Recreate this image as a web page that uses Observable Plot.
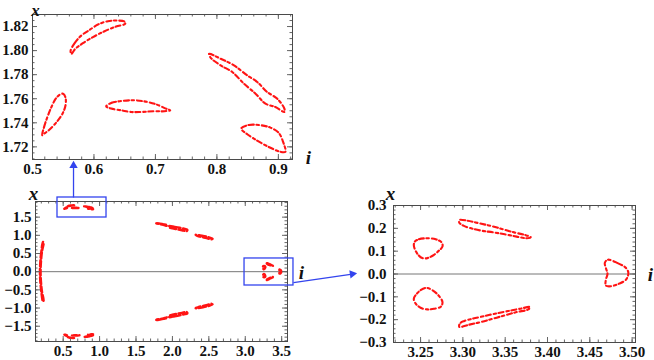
<!DOCTYPE html>
<html><head><meta charset="utf-8">
<script src="https://cdn.jsdelivr.net/npm/d3@7"></script>
<script src="https://cdn.jsdelivr.net/npm/@observablehq/plot@0.6"></script>
<style>
body{margin:0;background:#fff;}
#wrap{position:relative;width:654px;height:360px;overflow:hidden;background:#fff;}
.panel{position:absolute;}
</style></head><body><div id="wrap"></div>
<script>
// ---------- data: loops, [i, x] pairs ----------
// upper cluster (zoomed in top panel)
const loopTopDiag = [[0.562,1.800],[0.5686,1.8062],[0.5794,1.8125],[0.5929,1.8172],[0.6064,1.8217],[0.6226,1.8244],[0.6388,1.825],[0.6506,1.8239],[0.6506,1.8222],[0.636,1.820],[0.6172,1.8161],[0.5983,1.8112],[0.582,1.8062],[0.5697,1.8015],[0.5632,1.7973]];
const loopLeft = [[0.5157,1.7297],[0.5189,1.7366],[0.5243,1.7449],[0.5308,1.7531],[0.5378,1.7601],[0.5443,1.7634],[0.5497,1.7642],[0.5535,1.7614],[0.554,1.7554],[0.5502,1.749],[0.5448,1.7443],[0.5362,1.7388],[0.5265,1.7338],[0.5189,1.731]];
const loopCenter = [[0.6199,1.7537],[0.628,1.7565],[0.6442,1.7581],[0.6658,1.7587],[0.682,1.7578],[0.7009,1.7554],[0.7171,1.7518],[0.7241,1.7504],[0.7144,1.7496],[0.6982,1.7496],[0.6766,1.749],[0.6604,1.749],[0.6442,1.7504],[0.628,1.7518]];
const loopRightDiag = [[0.7873,1.7973],[0.8062,1.7932],[0.8278,1.7877],[0.8494,1.7794],[0.8656,1.7739],[0.8817,1.7656],[0.8979,1.7601],[0.9098,1.7518],[0.9098,1.749],[0.8952,1.7531],[0.879,1.7559],[0.8628,1.7642],[0.844,1.7725],[0.825,1.7822],[0.8062,1.7877],[0.79,1.794]];
const loopBottomRight = [[0.8396,1.7352],[0.852,1.7382],[0.8709,1.738],[0.8871,1.736],[0.9006,1.7316],[0.9077,1.7241],[0.9114,1.7159],[0.9033,1.7159],[0.8898,1.7186],[0.8736,1.7228],[0.8601,1.7269],[0.8494,1.7305]];
// lower cluster (x < 0)
const loopTopDiagN = [[0.563,-1.798],[0.58,-1.811],[0.605,-1.821],[0.638,-1.825],[0.651,-1.823],[0.618,-1.816],[0.583,-1.806],[0.565,-1.801]];
const loopLeftN = [[0.516,-1.73],[0.525,-1.745],[0.538,-1.76],[0.55,-1.764],[0.554,-1.755],[0.545,-1.744],[0.527,-1.734]];
const loopCenterN = [[0.62,-1.754],[0.645,-1.758],[0.68,-1.758],[0.717,-1.752],[0.724,-1.75],[0.698,-1.7495],[0.66,-1.749],[0.63,-1.752]];
const loopRightDiagN = [[0.787,-1.797],[0.828,-1.788],[0.866,-1.774],[0.898,-1.76],[0.91,-1.75],[0.895,-1.753],[0.863,-1.764],[0.825,-1.782],[0.79,-1.794]];
const loopBottomRightN = [[0.84,-1.735],[0.871,-1.738],[0.9,-1.732],[0.911,-1.716],[0.89,-1.719],[0.86,-1.727]];
// middle loops
const mid1 = [[1.778,1.335],[1.83,1.322],[1.88,1.303],[1.93,1.276],[1.926,1.263],[1.876,1.29],[1.826,1.311],[1.781,1.324]];
const mid2 = [[1.955,1.255],[2.03,1.232],[2.1,1.207],[2.17,1.175],[2.205,1.155],[2.195,1.115],[2.13,1.14],[2.05,1.17],[1.98,1.2],[1.955,1.22]];
const mid3 = [[2.318,1.012],[2.38,1.0],[2.44,0.976],[2.5,0.946],[2.552,0.906],[2.54,0.89],[2.48,0.918],[2.42,0.948],[2.36,0.975],[2.33,0.996]];
const mid1N = [[1.778,-1.33],[1.83,-1.315],[1.88,-1.296],[1.93,-1.27],[1.926,-1.256],[1.876,-1.283],[1.826,-1.304],[1.781,-1.318]];
const mid2N = [[1.955,-1.25],[2.03,-1.226],[2.1,-1.2],[2.17,-1.168],[2.205,-1.148],[2.195,-1.108],[2.13,-1.133],[2.05,-1.163],[1.98,-1.193],[1.955,-1.213]];
const mid3N = [[2.318,-1.008],[2.38,-0.995],[2.44,-0.97],[2.5,-0.94],[2.552,-0.9],[2.54,-0.884],[2.48,-0.912],[2.42,-0.942],[2.36,-0.97],[2.33,-0.99]];
// left arc
const leftArc = [[0.222,0.82],[0.2,0.55],[0.186,0.27],[0.181,0],[0.186,-0.27],[0.2,-0.55],[0.222,-0.82],[0.231,-0.8],[0.209,-0.55],[0.195,-0.27],[0.19,0],[0.195,0.27],[0.209,0.55],[0.231,0.8]];
// right cluster (zoomed in bottom-right panel)
const circleUp = [[3.2432,0.142],[3.248,0.152],[3.258,0.1565],[3.2679,0.152],[3.2751,0.1377],[3.2759,0.1203],[3.2719,0.1029],[3.2659,0.0841],[3.258,0.0696],[3.252,0.0696],[3.2472,0.0841],[3.2432,0.1087],[3.242,0.1275]];
const circleDown = [[3.2448,-0.0899],[3.25,-0.071],[3.2568,-0.0609],[3.2647,-0.0725],[3.2719,-0.0971],[3.2759,-0.1232],[3.2739,-0.1435],[3.2659,-0.1522],[3.258,-0.1551],[3.25,-0.1478],[3.244,-0.129],[3.242,-0.1087]];
const longUp = [[3.2958,0.2362],[3.3057,0.2333],[3.3197,0.2217],[3.3336,0.2101],[3.3475,0.1957],[3.3615,0.1812],[3.3734,0.171],[3.3802,0.1609],[3.3754,0.1565],[3.3635,0.1638],[3.3495,0.1739],[3.3356,0.1826],[3.3217,0.1899],[3.3097,0.2],[3.3006,0.2116],[3.2958,0.2246]];
const longDown = [[3.2958,-0.2319],[3.3077,-0.2217],[3.3217,-0.2101],[3.3356,-0.1957],[3.3495,-0.1812],[3.3635,-0.1667],[3.3774,-0.1551],[3.3794,-0.1449],[3.3674,-0.1522],[3.3535,-0.1623],[3.3396,-0.1725],[3.3256,-0.1841],[3.3117,-0.1957],[3.3017,-0.2058],[3.2966,-0.2159]];
const crescent = [[3.4709,0.0623],[3.4829,0.0478],[3.4928,0.0261],[3.4956,0.0043],[3.4928,-0.0246],[3.4848,-0.042],[3.4749,-0.0536],[3.469,-0.0507],[3.469,-0.0246],[3.4709,0],[3.469,0.0261],[3.4677,0.0478]];

// tick labels
const topXTicks = [0.5, 0.6, 0.7, 0.8, 0.9];
const topYTicks = [1.72, 1.74, 1.76, 1.78, 1.80, 1.82];
const blXTicks = [0.5, 1.0, 1.5, 2.0, 2.5, 3.0, 3.5];
const blYTicks = [-1.5, -1.0, -0.5, 0.0, 0.5, 1.0, 1.5];
const brXTicks = [3.25, 3.30, 3.35, 3.40, 3.45, 3.50];
const brYTicks = [-0.3, -0.2, -0.1, 0.0, 0.1, 0.2, 0.3];

// zoom boxes and arrows (annotation, in bottom-left data units)
const zoomBoxes = [{x1: 0.422, x2: 1.095, y1: 1.49, y2: 2.04}, {x1: 2.99, x2: 3.662, y1: -0.38, y2: 0.363}];
const arrowLines = [{x1: 0.642, y1: 2.04, x2: 0.642, y2: 2.92}, {x1: 3.662, y1: -0.30, x2: 4.47, y2: -0.065}];
const arrowHeads = [{x: 0.642, y: 2.92, rot: 0}, {x: 4.47, y: -0.065, rot: 82}];

// ---------- helpers ----------
const RED = "#ff1414", BLUE = "#3344ee", FRAME = "#4a4a4a", TICK = "#666";
const rows = (named) => named.flatMap(([name, pts]) => pts.map(([i, x]) => ({loop: name, i, x})));
const upperCluster = [["tdiag", loopTopDiag], ["left", loopLeft], ["center", loopCenter], ["rdiag", loopRightDiag], ["bright", loopBottomRight]];
const lowerCluster = [["tdiagN", loopTopDiagN], ["leftN", loopLeftN], ["centerN", loopCenterN], ["rdiagN", loopRightDiagN], ["brightN", loopBottomRightN]];
const midLoops = [["m1", mid1], ["m2", mid2], ["m3", mid3], ["m1N", mid1N], ["m2N", mid2N], ["m3N", mid3N], ["arc", leftArc]];
const rightCluster = [["cu", circleUp], ["cd", circleDown], ["lu", longUp], ["ld", longDown], ["cr", crescent]];

function frameTicks(values, dim, len, fw, fh, domain) {
  const v = values.filter(d => d >= domain[0] - 1e-9 && d <= domain[1] + 1e-9);
  if (dim === "x") return [
    Plot.tickX(v, {x: d => d, insetTop: fh - len, stroke: TICK}),
    Plot.tickX(v, {x: d => d, insetBottom: fh - len, stroke: TICK})];
  return [
    Plot.tickY(v, {y: d => d, insetRight: fw - len, stroke: TICK}),
    Plot.tickY(v, {y: d => d, insetLeft: fw - len, stroke: TICK})];
}
const baseStyle = {background: "transparent", fontFamily: "'Liberation Serif', 'DejaVu Serif', serif", fontSize: "15px", fontWeight: "bold", color: "#111", overflow: "visible"};
const axisLabel = (txt, anchor, dx, dy, size = 19) => Plot.text([txt], {frameAnchor: anchor, dx, dy, text: d => d, textAnchor: "middle", lineAnchor: "middle", fontStyle: "italic", fontWeight: "bold", fontSize: size, fontFamily: "'Liberation Serif', serif", fill: "#111"});

function place(svg, left, top) {
  const d = document.createElement("div");
  d.className = "panel";
  d.style.left = left + "px"; d.style.top = top + "px";
  d.appendChild(svg);
  document.getElementById("wrap").appendChild(d);
}
const dotted = "5,2.5,2.5,3";

// ---------- bottom-right panel ----------
{
  const W = 314, H = 180, mL = 53, mR = 19, mT = 25, mB = 18;
  const fw = W - mL - mR, fh = H - mT - mB;
  const xd = [3.218, 3.504], yd = [-0.3, 0.3];
  const svg = Plot.plot({
    width: W, height: H, marginLeft: mL, marginRight: mR, marginTop: mT, marginBottom: mB,
    x: {domain: xd, label: null}, y: {domain: yd, label: null},
    style: baseStyle,
    marks: [
      Plot.ruleY([0], {stroke: "#777"}),
      Plot.line(rows(rightCluster), {x: "i", y: "x", z: "loop", curve: "catmull-rom-closed", stroke: RED, strokeWidth: 2.1, strokeDasharray: dotted}),
      ...frameTicks(d3.range(3.22, 3.505, 0.01), "x", 2.5, fw, fh, xd),
      ...frameTicks(brXTicks, "x", 5, fw, fh, xd),
      ...frameTicks(d3.range(-0.3, 0.301, 0.02), "y", 2.5, fw, fh, yd),
      ...frameTicks(brYTicks, "y", 5, fw, fh, yd),
      Plot.frame({stroke: FRAME}),
      Plot.axisX(brXTicks, {tickSize: 0, tickPadding: 4, tickFormat: d3.format(".2f"), label: null}),
      Plot.axisY(brYTicks, {tickSize: 0, tickPadding: 7, tickFormat: d3.format(".1f"), label: null}),
      axisLabel("x", "top-left", -3, -12),
      axisLabel("i", "right", 15, 1)
    ]
  });
  place(svg, 340, 180);
}

// ---------- top panel ----------
{
  const W = 330, H = 180, mL = 32, mR = 38, mT = 14, mB = 21;
  const fw = W - mL - mR, fh = H - mT - mB;
  const xd = [0.5, 0.923], yd = [1.7095, 1.83];
  const svg = Plot.plot({
    width: W, height: H, marginLeft: mL, marginRight: mR, marginTop: mT, marginBottom: mB,
    x: {domain: xd, label: null}, y: {domain: yd, label: null},
    style: baseStyle,
    marks: [
      Plot.line(rows(upperCluster), {x: "i", y: "x", z: "loop", curve: "catmull-rom-closed", stroke: RED, strokeWidth: 2.1, strokeDasharray: dotted}),
      ...frameTicks(d3.range(0.5, 0.923, 0.02), "x", 2.5, fw, fh, xd),
      ...frameTicks(topXTicks, "x", 5, fw, fh, xd),
      ...frameTicks(d3.range(1.71, 1.8305, 0.005), "y", 2.5, fw, fh, yd),
      ...frameTicks(topYTicks, "y", 5, fw, fh, yd),
      Plot.frame({stroke: FRAME}),
      Plot.axisX(topXTicks, {tickSize: 0, tickPadding: 4, tickFormat: d3.format(".1f"), label: null}),
      Plot.axisY(topYTicks, {tickSize: 0, tickPadding: 4, tickFormat: d3.format(".2f"), label: null}),
      axisLabel("x", "top-left", 3, -4, 17),
      axisLabel("i", "bottom-right", 16, -2)
    ]
  });
  place(svg, 0, 0);
}

// ---------- bottom-left panel ----------
{
  const W = 362, H = 210, mL = 35, mR = 75, mT = 51, mB = 19;
  const fw = W - mL - mR, fh = H - mT - mB;
  const xd = [0.12, 3.58], yd = [-1.92, 1.93];
  const svg = Plot.plot({
    width: W, height: H, marginLeft: mL, marginRight: mR, marginTop: mT, marginBottom: mB,
    x: {domain: xd, label: null}, y: {domain: yd, label: null},
    style: baseStyle,
    marks: [
      Plot.ruleY([0], {stroke: "#777"}),
      Plot.line(rows([...upperCluster, ...lowerCluster, ...midLoops, ...rightCluster]), {x: "i", y: "x", z: "loop", curve: "catmull-rom-closed", stroke: RED, strokeWidth: 2.4, strokeDasharray: "6,2.5"}),
      ...frameTicks(d3.range(0.2, 3.58, 0.1), "x", 2.5, fw, fh, xd),
      ...frameTicks(blXTicks, "x", 5, fw, fh, xd),
      ...frameTicks(d3.range(-1.9, 1.93, 0.1), "y", 2.5, fw, fh, yd),
      ...frameTicks(blYTicks, "y", 5, fw, fh, yd),
      Plot.frame({stroke: FRAME}),
      Plot.axisX(blXTicks, {tickSize: 0, tickPadding: 4, tickFormat: d3.format(".1f"), label: null}),
      Plot.axisY(blYTicks, {tickSize: 0, tickPadding: 4, tickFormat: d3.format(".1f"), label: null}),
      axisLabel("x", "top-left", -2, -8),
      axisLabel("i", "right", 14, 1),
      Plot.rect(zoomBoxes, {x1: "x1", x2: "x2", y1: "y1", y2: "y2", fill: "none", stroke: BLUE, strokeWidth: 1.3}),
      Plot.link(arrowLines, {x1: "x1", y1: "y1", x2: "x2", y2: "y2", stroke: BLUE, strokeWidth: 1.3}),
      Plot.dot(arrowHeads, {x: "x", y: "y", rotate: "rot", symbol: "triangle2", r: 4, fill: BLUE, stroke: "none"})
    ]
  });
  place(svg, 0, 150);
}
</script></body></html>
